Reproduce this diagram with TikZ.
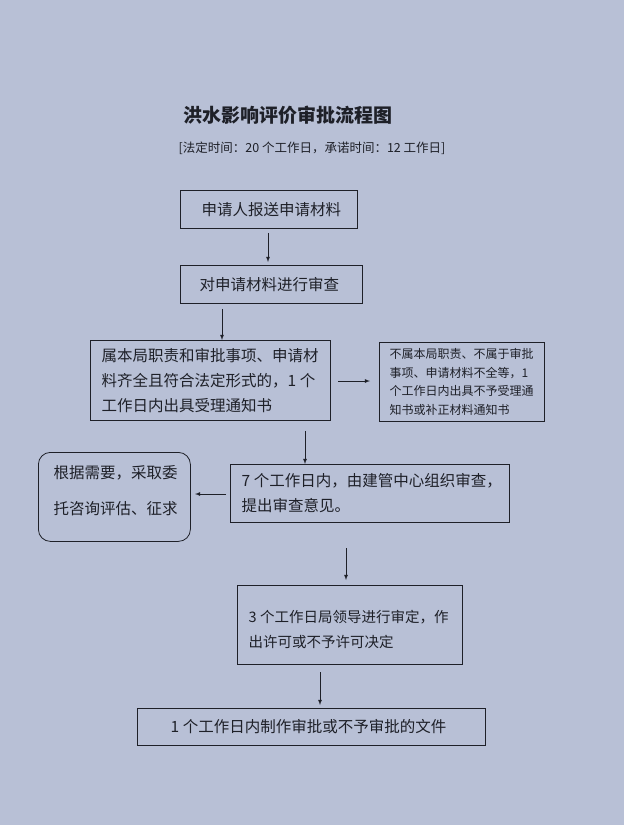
\documentclass[tikz,border=0pt]{standalone}
\usepackage{fontspec}
\setmainfont{Noto Sans CJK SC}
\definecolor{paper}{RGB}{184,192,214}
\definecolor{ink}{RGB}{30,32,40}
\begin{document}
\begin{tikzpicture}[x=1pt,y=-1pt,thick,draw=ink,text=ink,
stepbox/.style={draw=ink,rectangle,anchor=north west,inner sep=0pt},
boxtext/.style={anchor=west,align=left,font=\fontsize{15.5}{25}\selectfont},
smalltext/.style={anchor=west,align=left,font=\fontsize{12}{18.5}\selectfont},
flow/.style={->,>=latex,ink,thick}]

\fill[paper] (0,0) rectangle (624,825);
\useasboundingbox (0,0) rectangle (624,825);

\node[font=\fontsize{19}{21}\selectfont\bfseries] (title) at (288,115) {洪水影响评价审批流程图};
\node[font=\fontsize{12.5}{14}\selectfont] (sub) at (312,148) {[法定时间：20 个工作日，承诺时间：12 工作日]};

\node[stepbox,minimum width=177pt,minimum height=38pt] (apply) at (180,190) {};
\node[boxtext] at (apply.west) [xshift=18pt] {申请人报送申请材料};
\node[stepbox,minimum width=182pt,minimum height=38pt] (check) at (180,265) {};
\node[boxtext] at (check.west) [xshift=16pt] {对申请材料进行审查};
\node[stepbox,minimum width=240pt,minimum height=80pt] (accept) at (90,340) {};
\node[boxtext] at (accept.west) [xshift=8pt] {属本局职责和审批事项、申请材\\料齐全且符合法定形式的，1 个\\工作日内出具受理通知书};
\node[stepbox,minimum width=165pt,minimum height=79pt] (reject) at (379,342) {};
\node[smalltext] at (reject.west) [xshift=7pt] {不属本局职责、不属于审批\\事项、申请材料不全等，1\\个工作日内出具不予受理通\\知书或补正材料通知书};
\node[stepbox,minimum width=279pt,minimum height=58pt] (review) at (230,464) {};
\node[boxtext] at (review.west) [xshift=8pt] {7 个工作日内，由建管中心组织审查，\\提出审查意见。};
\node[stepbox,rounded corners=12pt,minimum width=152pt,minimum height=89pt] (consult) at (38,452) {};
\node[boxtext,font=\fontsize{15.5}{36}\selectfont] at (consult.west) [xshift=12pt,yshift=6pt] {根据需要，采取委\\托咨询评估、征求};
\node[stepbox,minimum width=225pt,minimum height=79pt] (decide) at (237,585) {};
\node[boxtext,font=\fontsize{14.5}{25}\selectfont] at (decide.west) [xshift=8pt,yshift=-5pt] {3 个工作日局领导进行审定，作\\出许可或不予许可决定};
\node[stepbox,minimum width=348pt,minimum height=37pt] (issue) at (137,708) {};
\node[boxtext] at (issue.west) [xshift=30pt] {1 个工作日内制作审批或不予审批的文件};

\draw[flow] (apply.south -| 268,0) ++(0,4) -- (268,262);
\draw[flow] (check.south -| 222,0) ++(0,5) -- (222,340);
\draw[flow] (338,381) -- (370,381);
\draw[flow] (accept.south -| 305,0) ++(0,10) -- (305,464);
\draw[flow] (226,494) -- (195,494);
\draw[flow] (346,548) -- (346,580);
\draw[flow] (320,672) -- (320,705);
\end{tikzpicture}
\end{document}
